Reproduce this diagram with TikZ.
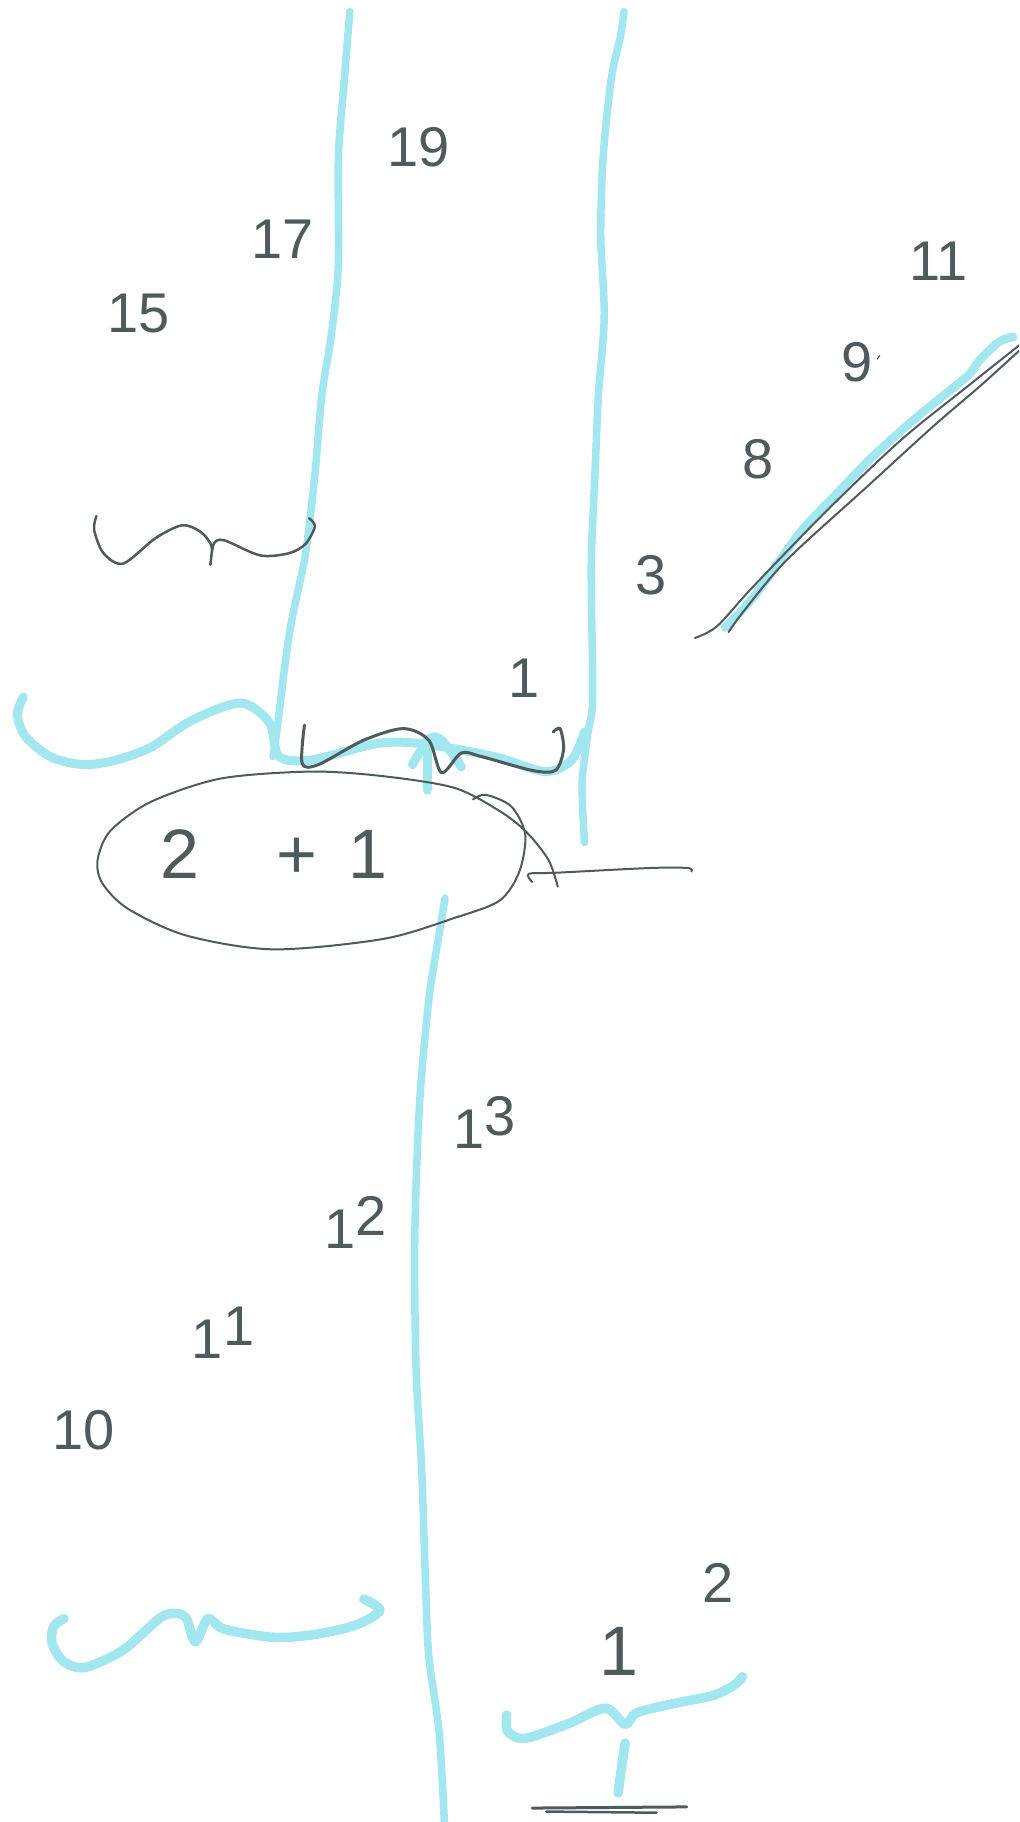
\documentclass[tikz,border=0pt]{standalone}
\usepackage{fontspec}
\setmainfont{Liberation Sans}
\usetikzlibrary{positioning}
\definecolor{penBlue}{HTML}{A2E7F0}
\definecolor{penInk}{HTML}{4E5A5C}
\tikzset{
  bluestroke/.style={draw=penBlue,line width=7.5pt,line cap=round,line join=round},
  inkstroke/.style={draw=penInk,line width=2pt,line cap=round,line join=round},
  num/.style={text=penInk,inner sep=0pt,font=\fontsize{56}{56}\selectfont},
  bignum/.style={num,font=\fontsize{70}{70}\selectfont}
}
\newcommand{\up}[1]{\raisebox{.22em}{#1}}

\begin{document}
\begin{tikzpicture}[x=1.162pt,y=-1.162pt]
\clip (0,0) rectangle (877,1568);

% upper column
\draw[bluestroke] plot[smooth] coordinates {(301,10) (297,60) (292,120) (291,150) (291,231) (285,289) (277,340) (271,408) (263,476) (251,534) (245,574) (238,631) (235,651)};
\draw[bluestroke] plot[smooth] coordinates {(537,10) (534,31) (526,68) (519,136) (517,204) (520,272) (515,340) (512,408) (509,476) (509,516) (510,602) (506,631) (501,674) (503,725)};
\draw[bluestroke,line width=9pt] plot[smooth] coordinates {(20,600) (15,615) (22,634) (45,652) (73,658) (100,654) (130,643) (165,620) (207,605) (232,622) (240,651) (268,654) (324,640) (363,640) (425,651) (469,664) (492,654) (503,630)};
\draw[bluestroke,line width=9pt] (368,640) -- (368,680);
\draw[bluestroke,line width=9pt] plot[smooth] coordinates {(355,658) (369,636) (380,637) (397,660)};

% lower column
\draw[bluestroke] plot[smooth] coordinates {(383,773) (378,803) (369,861) (361,951) (357,1064) (358,1176) (363,1267) (366,1357) (369,1425) (378,1492) (383,1580)};
\draw[bluestroke,line width=9.5pt] plot[smooth] coordinates {(55,1393) (46,1400) (45,1415) (55,1430) (73,1435) (106,1420) (140,1391) (159,1391) (168,1413) (179,1393) (193,1402) (235,1409) (268,1407) (305,1399) (327,1386) (313,1376)};
\draw[bluestroke,line width=9.5pt] plot[smooth] coordinates {(436,1476) (437,1490) (452,1496) (490,1483) (521,1470) (538,1484) (548,1474) (580,1466) (614,1459) (632,1450) (639,1443)};
\draw[bluestroke,line width=9.5pt] plot[smooth] coordinates {(538,1500) (535,1520) (532,1543)};
\draw[inkstroke,line width=3pt] (458,1556) -- (591,1555);
\draw[inkstroke,line width=2.5pt] (470,1559) -- (565,1560);

% diagonal
\draw[bluestroke,line width=8.5pt] plot[smooth] coordinates {(624,540) (650,512) (688,459) (720,425) (751,393) (789,359) (832,324) (843,310) (860,294) (872,290)};
\draw[inkstroke] plot[smooth] coordinates {(598,549) (617,539) (648,505) (711,440) (775,379) (832,333) (890,287)};
\draw[inkstroke] plot[smooth] coordinates {(627,544) (640,526) (677,482) (746,419) (803,367) (846,330) (890,290)};

% ink waves
\draw[inkstroke,line width=2.5pt] plot[smooth] coordinates {(83,444) (81,456) (89,476) (106,485) (134,463) (157,452) (173,458) (182,470) (181,486) (184,468) (193,465) (224,478) (249,476) (263,468) (271,453) (266,446)};
\draw[inkstroke,line width=3pt] plot[smooth] coordinates {(262,624) (260,657) (274,658) (313,637) (347,627) (369,637) (380,665) (397,648) (414,651) (458,663) (478,663) (485,645) (482,627) (476,630)};

% ellipse
\draw[inkstroke] plot[smooth] coordinates {(407,688) (418,684) (440,694) (452,718) (447,750) (430,775) (391,790) (330,808) (235,817) (160,805) (110,782) (88,760) (84,740) (95,715) (130,690) (190,670) (268,664) (330,668) (391,678) (430,698) (453,716) (472,740) (480,763)};
\draw[inkstroke] plot[smooth] coordinates {(458,759) (455,752) (480,751) (559,747) (592,747) (595,750)};
\node[bignum] (sum) at (236,735) {2\hspace{1.1em}+\hspace{0.45em}1};

% labels
\node[num] (n19) at (360,127) {19};
\node[num] (n17) at (243,206) {17};
\node[num] (n15) at (119,270) {15};
\node[num] (n11a) at (808,225) {11};
\node[num] (n9) at (738,312) {9};
\draw[inkstroke,line width=1.2pt] (755,309) -- (757,306);
\node[num] (n8) at (652,395) {8};
\node[num] (n3) at (560,495) {3};
\node[num] (n1a) at (451,584) {1};
\node[num] (n13) at (417,966) {1\up{3}};
\node[num] (n12) at (306,1052) {1\up{2}};
\node[num] (n11b) at (192,1147) {1\up{1}};
\node[num] (n10) at (72,1231) {10};
\node[num] (n2) at (618,1362) {2};
\node[bignum] (n1b) at (533,1421) {1};
\end{tikzpicture}
\end{document}
